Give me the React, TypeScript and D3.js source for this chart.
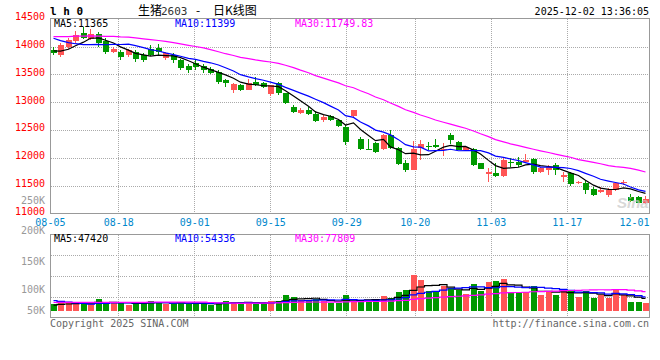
import React, { useEffect, useRef } from 'react'
import * as d3 from 'd3'

// trading days on screen, 2025-08-05 .. 2025-12-02
const dates = (
  '08-05 08-06 08-07 08-08 08-11 08-12 08-13 08-14 08-15 08-18 08-19 08-20 08-21 08-22 08-25 08-26 08-27 08-28 08-29 ' +
  '09-01 09-02 09-03 09-04 09-05 09-08 09-09 09-10 09-11 09-12 09-15 09-16 09-17 09-18 09-19 09-22 09-23 09-24 09-25 09-26 09-29 09-30 ' +
  '10-09 10-10 10-13 10-14 10-15 10-16 10-17 10-20 10-21 10-22 10-23 10-24 10-27 10-28 10-29 10-30 10-31 ' +
  '11-03 11-04 11-05 11-06 11-07 11-10 11-11 11-12 11-13 11-14 11-17 11-18 11-19 11-20 11-21 11-24 11-25 11-26 11-27 11-28 ' +
  '12-01 12-02'
).split(' ')

const tickDates = ['08-05', '08-18', '09-01', '09-15', '09-29', '10-20', '11-03', '11-17', '12-01']

const opens = [13940, 13850, 13990, 14090, 14250, 14140, 14220, 14090, 13900, 13910,
  13850, 13900, 13850, 13950, 13970, 13800, 13850, 13750, 13650, 13700,
  13650, 13590, 13550, 13400, 13220, 13310, 13220, 13370, 13340, 13150,
  13350, 13160, 12920, 12800, 12860, 12780, 12670, 12750, 12670, 12560,
  12750, 12340, 12160, 12270, 12150, 12410, 12170, 11910, 11780, 12170,
  12210, 12230, 12130, 12410, 12290, 12140, 12150, 11900, 11710, 11730,
  11670, 11930, 11930, 11930, 11970, 11740, 11780, 11870, 11660, 11730,
  11540, 11550, 11440, 11390, 11330, 11420, 11540, 11300, 11300, 11180]

const highs = [14000, 14060, 14160, 14270, 14350, 14310, 14260, 14150, 13990, 13940,
  13960, 13940, 13880, 14030, 14050, 13910, 13880, 13780, 13690, 13760,
  13690, 13630, 13580, 13420, 13350, 13330, 13410, 13450, 13360, 13310,
  13360, 13170, 12950, 12890, 12920, 12840, 12770, 12760, 12700, 12590,
  12860, 12370, 12330, 12290, 12430, 12490, 12190, 11960, 12300, 12320,
  12290, 12340, 12260, 12440, 12300, 12210, 12170, 11910, 11820, 11910,
  11990, 11990, 12010, 12060, 11990, 11830, 11870, 11900, 11750, 11750,
  11580, 11590, 11480, 11480, 11450, 11570, 11600, 11350, 11310, 11310]

const lows = [13845, 13820, 13950, 14060, 14130, 14110, 13990, 13870, 13880, 13760,
  13820, 13730, 13730, 13830, 13850, 13760, 13700, 13570, 13530, 13580,
  13520, 13500, 13320, 13280, 13160, 13200, 13210, 13290, 13250, 13110,
  13130, 12970, 12800, 12780, 12770, 12640, 12650, 12660, 12560, 12230,
  12740, 12140, 12130, 12080, 12140, 12150, 11870, 11740, 11770, 11960,
  12140, 12170, 12030, 12250, 12130, 12120, 11850, 11790, 11570, 11650,
  11650, 11840, 11840, 11910, 11710, 11720, 11690, 11690, 11570, 11490,
  11530, 11350, 11310, 11360, 11290, 11410, 11510, 11210, 11180, 11170]

const closes = [13880, 14030, 14120, 14210, 14150, 14230, 14070, 13900, 13960, 13810,
  13930, 13780, 13760, 13850, 13900, 13890, 13750, 13610, 13570, 13630,
  13580, 13530, 13360, 13350, 13330, 13220, 13350, 13310, 13270, 13300,
  13160, 12990, 12820, 12860, 12790, 12660, 12740, 12680, 12570, 12290,
  12850, 12150, 12130, 12110, 12410, 12170, 11890, 11780, 12160, 12250,
  12190, 12200, 12150, 12320, 12140, 12200, 11870, 11800, 11750, 11670,
  11950, 11910, 11860, 11960, 11740, 11810, 11840, 11780, 11690, 11520,
  11570, 11420, 11330, 11420, 11420, 11550, 11570, 11230, 11190, 11250]

const volumes = [28, 37, 33, 28, 37, 28, 51, 28, 33, 33,
  25, 37, 28, 42, 37, 28, 28, 37, 28, 33,
  28, 23, 34, 42, 39, 28, 37, 28, 34, 42,
  42, 65, 59, 45, 45, 51, 40, 33, 33, 65,
  37, 47, 47, 40, 61, 54, 80, 89, 150, 131,
  85, 85, 103, 95, 89, 72, 114, 85, 120, 127,
  136, 80, 80, 80, 106, 65, 80, 65, 85, 89,
  59, 85, 56, 65, 56, 93, 65, 35, 39, 31].map(v => v * 1000)

// sessions before 08-05, only used for the moving averages
const priorCloses = [14050, 14100, 14000, 14080, 14150, 14120, 14060, 14000, 14050, 14100,
  14200, 14250, 14300, 14350, 14400, 14380, 14330, 14300, 14280, 14350,
  14450, 14500, 14400, 14300, 14235, 14050, 13950, 13900, 13825]
const priorVolumes = [30, 32, 28, 35, 31, 29, 33, 30, 34, 28,
  31, 30, 33, 29, 32, 30, 28, 34, 31, 30,
  65, 70, 60, 55, 58, 22, 25, 20, 24].map(v => v * 1000)

const priceTicks = [11000, 11500, 12000, 12500, 13000, 13500, 14000, 14500]
const volTicks = [50000, 100000, 150000, 200000, 250000]
const volTickLabels = ['50K', '100K', '150K', '200K', '250K']

const priceMaLabels = ['MA5:11365', 'MA10:11399', 'MA30:11749.83']
const volMaLabels = ['MA5:47420', 'MA10:54336', 'MA30:77809']
const maPeriods = [5, 10, 30]
const maColors = ['#000000', '#0000ff', '#ff00ff']

const RED = '#ff5555'
const GREEN = '#009900'

function movingAverage(prior: number[], values: number[], n: number) {
  const all = prior.concat(values)
  const off = prior.length
  return values.map((_, i) => d3.mean(all.slice(off + i - n + 1, off + i + 1)) as number)
}

function KChart() {
  const ref = useRef<SVGSVGElement>(null)

  useEffect(() => {
    const svg = d3.select(ref.current)
    svg.selectAll('*').remove()

    const mono = "'DejaVu Sans Mono', monospace"
    const left = 50.5, right = 649.5
    const pTop = 18.5, pBottom = 213.5
    const vTop = 234.5, vBottom = 317.5

    const idx = d3.range(dates.length)
    const x = d3.scaleBand<number>().domain(idx).range([50.5, 649.3]).paddingInner(0.2)
    const bw = x.bandwidth()
    const cx = (i: number) => Math.round(x(i) as number) + 2.5
    // sina puts the date grid on a slightly wider step than the candles
    const gridX = d3.scaleLinear().domain([0, dates.length - 1]).range([49.9, 650.3])
    const y = d3.scaleLinear().domain([11000, 14500]).range([213.3, 18.7])
    const vy = d3.scaleLinear().domain([0, 326000]).range([310.7, 234])
    const volLabelY = d3.scaleLinear().domain(volTicks).range([314, 293.3, 264.7, 234, 204])

    const grid = svg.append('g')
      .attr('stroke', '#aaa')
      .attr('stroke-dasharray', '1,1')
      .attr('shape-rendering', 'crispEdges')

    // horizontal grid, price panel
    grid.selectAll('line.ph')
      .data(priceTicks.slice(1, -1))
      .enter().append('line')
      .attr('x1', left).attr('x2', right)
      .attr('y1', d => Math.round(y(d)) + 0.5)
      .attr('y2', d => Math.round(y(d)) + 0.5)

    // horizontal grid, volume panel (quarters)
    grid.selectAll('line.vh')
      .data([1, 2, 3])
      .enter().append('line')
      .attr('x1', left).attr('x2', right)
      .attr('y1', k => Math.round(vTop + k * (vBottom - vTop) / 4) + 0.5)
      .attr('y2', k => Math.round(vTop + k * (vBottom - vTop) / 4) + 0.5)

    const innerTicks = tickDates.slice(1, -1)
    ;[[pTop, pBottom], [vTop, vBottom]].forEach(([t, b]) => {
      grid.append('g').selectAll('line')
        .data(innerTicks)
        .enter().append('line')
        .attr('x1', d => Math.round(gridX(dates.indexOf(d))) + 0.5)
        .attr('x2', d => Math.round(gridX(dates.indexOf(d))) + 0.5)
        .attr('y1', t).attr('y2', b)
    })

    // volume bars
    svg.append('g')
      .attr('shape-rendering', 'crispEdges')
      .selectAll('rect')
      .data(idx)
      .enter().append('rect')
      .attr('x', i => Math.round(x(i) as number))
      .attr('width', Math.round(bw))
      .attr('y', i => vy(volumes[i]))
      .attr('height', i => vy(0) - vy(volumes[i]))
      .attr('fill', i => closes[i] >= opens[i] ? RED : GREEN)

    // candles
    const candles = svg.append('g').attr('shape-rendering', 'crispEdges')
    candles.selectAll('line')
      .data(idx)
      .enter().append('line')
      .attr('x1', cx).attr('x2', cx)
      .attr('y1', i => y(highs[i]))
      .attr('y2', i => y(lows[i]))
      .attr('stroke', i => closes[i] >= opens[i] ? RED : GREEN)
    candles.selectAll('rect')
      .data(idx)
      .enter().append('rect')
      .attr('x', i => Math.round(x(i) as number))
      .attr('width', Math.round(bw))
      .attr('y', i => y(Math.max(opens[i], closes[i])))
      .attr('height', i => Math.max(1, Math.abs(y(opens[i]) - y(closes[i]))))
      .attr('fill', i => closes[i] >= opens[i] ? RED : GREEN)

    // moving averages
    maPeriods.forEach((n, k) => {
      const pm = movingAverage(priorCloses, closes, n)
      const line = d3.line<number>().x((_, i) => cx(i)).y(d => y(d))
      svg.append('path')
        .attr('d', line(pm))
        .attr('fill', 'none')
        .attr('stroke', maColors[k])
        .attr('stroke-width', 1.2)

      const vm = movingAverage(priorVolumes, volumes, n)
      const vline = d3.line<number>().x((_, i) => cx(i)).y(d => vy(d)).curve(d3.curveStep)
      svg.append('path')
        .attr('d', vline(vm))
        .attr('fill', 'none')
        .attr('stroke', maColors[k])
        .attr('stroke-width', 1.2)
    })

    // frames
    const frame = svg.append('g')
      .attr('fill', 'none')
      .attr('stroke', '#999')
      .attr('shape-rendering', 'crispEdges')
    frame.append('rect').attr('x', left).attr('y', pTop).attr('width', right - left).attr('height', pBottom - pTop)
    frame.append('rect').attr('x', left).attr('y', vTop).attr('width', right - left).attr('height', vBottom - vTop)

    // watermark
    svg.append('text')
      .attr('x', 617).attr('y', 208)
      .attr('font-family', 'Arial, Liberation Sans, sans-serif')
      .attr('font-style', 'italic')
      .attr('font-weight', 'bold')
      .attr('font-size', 15)
      .attr('fill', '#c8c8c8')
      .attr('opacity', 0.7)
      .text('Sina')

    // price axis labels
    svg.append('g').selectAll('text')
      .data(priceTicks)
      .enter().append('text')
      .attr('x', 45).attr('y', d => y(d) + 1.5)
      .attr('text-anchor', 'end')
      .attr('font-family', mono).attr('font-size', 10)
      .attr('fill', '#ff0000')
      .text(d => d)

    // volume axis labels
    svg.append('g').selectAll('text')
      .data(volTicks)
      .enter().append('text')
      .attr('x', 45).attr('y', d => volLabelY(d))
      .attr('text-anchor', 'end')
      .attr('font-family', mono).attr('font-size', 10)
      .attr('fill', '#999')
      .text((_, i) => volTickLabels[i])

    // date labels
    svg.append('g').selectAll('text')
      .data(tickDates)
      .enter().append('text')
      .attr('x', d => Math.min(gridX(dates.indexOf(d)) + 0.5, 649.5 - 15))
      .attr('y', 225.5)
      .attr('text-anchor', 'middle')
      .attr('font-family', mono).attr('font-size', 10)
      .attr('fill', '#0088cc')
      .text(d => d)

    // MA legends
    const maX = [54, 175, 295]
    priceMaLabels.forEach((t, k) => {
      svg.append('text')
        .attr('x', maX[k]).attr('y', 27)
        .attr('font-family', mono).attr('font-size', 10)
        .attr('fill', maColors[k])
        .text(t)
    })
    volMaLabels.forEach((t, k) => {
      svg.append('text')
        .attr('x', maX[k]).attr('y', 242)
        .attr('font-family', mono).attr('font-size', 10)
        .attr('fill', maColors[k])
        .text(t)
    })

    // header
    svg.append('text')
      .attr('x', 50).attr('y', 15)
      .attr('font-family', mono).attr('font-size', 11).attr('font-weight', 'bold')
      .text('l h 0')

    const title = svg.append('text')
      .attr('y', 15)
      .attr('font-family', "'Noto Sans CJK SC', sans-serif")
      .attr('font-size', 12)
      .attr('fill', '#000')
    title.append('tspan').attr('x', 138).text('生猪')
    title.append('tspan').attr('x', 161).attr('fill', '#333').attr('font-family', mono).attr('font-size', 11).text('2603')
    title.append('tspan').attr('x', 196).text('-')
    title.append('tspan').attr('x', 213).text('日K线图')

    svg.append('text')
      .attr('x', 649).attr('y', 15)
      .attr('text-anchor', 'end')
      .attr('font-family', mono).attr('font-size', 10)
      .text('2025-12-02 13:36:05')

    // footer
    svg.append('text')
      .attr('x', 50).attr('y', 327)
      .attr('font-family', mono).attr('font-size', 10)
      .attr('fill', '#666')
      .text('Copyright 2025 SINA.COM')
    svg.append('text')
      .attr('x', 649).attr('y', 327)
      .attr('text-anchor', 'end')
      .attr('font-family', mono).attr('font-size', 10)
      .attr('fill', '#666')
      .text('http://finance.sina.com.cn')
  }, [])

  return <svg ref={ref} width={660} height={360} style={{ position: 'absolute', left: 0, top: 0, background: '#fff' }} />
}

export default function App() {
  return <KChart />
}
